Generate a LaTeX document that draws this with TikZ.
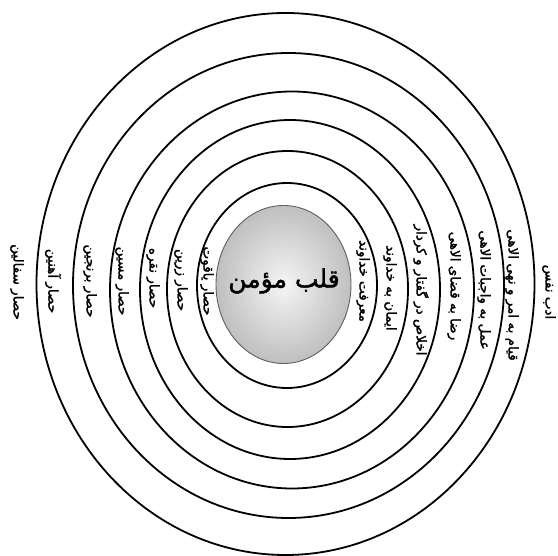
\documentclass[tikz,border=0pt]{standalone}
\usepackage{fontspec}
\newfontfamily\arabicfont[Script=Arabic,FakeBold=1.8]{DejaVu Sans}
\TeXXeTstate=1
\tikzset{
  ring/.style={draw=black,line width=1.8pt},
  lbl/.style={rotate=-90,inner sep=0pt,font=\arabicfont\fontsize{13.5}{15}\selectfont},
}
\begin{document}
\begin{tikzpicture}[x=1pt,y=-1pt]
\useasboundingbox (0,0) rectangle (558,556);
\fill[white] (0,0) rectangle (558,556);
% rings
\draw[ring] (285.5,284) ellipse [x radius=249,y radius=271];
\draw[ring] (288.5,285.5) ellipse [x radius=215.5,y radius=232.5];
\draw[ring] (292,290) ellipse [x radius=182,y radius=198.5];
\draw[ring] (290,289.5) ellipse [x radius=150,y radius=169.5];
\draw[ring] (287.5,289) ellipse [x radius=120.5,y radius=138];
\draw[ring] (287,285.5) ellipse [x radius=90,y radius=102.5];
% heart
\shade[inner color=gray!8,outer color=gray!50,draw=gray!75!black,line width=0.9pt]
  (283.5,284.5) ellipse [x radius=67.5,y radius=79];
\node[font=\arabicfont\fontsize{25}{29}\selectfont] (heart) at (284,281) {\beginR قلب مؤمن\endR};
% left labels
\node[lbl] (l1) at (17,282) {\beginR حصار سفالین\endR};
\node[lbl] (l2) at (53,281) {\beginR حصار آهنین\endR};
\node[lbl] (l3) at (90,281) {\beginR حصار برنجین\endR};
\node[lbl] (l4) at (122,281) {\beginR حصار مسین\endR};
\node[lbl] (l5) at (153,278) {\beginR حصار نقره\endR};
\node[lbl] (l6) at (181,280) {\beginR حصار زرین\endR};
\node[lbl] (l7) at (207,281) {\beginR حصار یاقوت\endR};
% right labels
\node[lbl] (r1) at (549,292) {\beginR ادب نفس\endR};
\node[lbl] (r2) at (512,295) {\beginR قیام به امر و نهی الاهی\endR};
\node[lbl] (r3) at (484,290) {\beginR عمل به واجبات الاهی\endR};
\node[lbl] (r4) at (454,286) {\beginR رضا به قضای الاهی\endR};
\node[lbl] (r5) at (421,290) {\beginR اخلاص در گفتار و کردار\endR};
\node[lbl] (r6) at (390,288) {\beginR ایمان به خداوند\endR};
\node[lbl] (r7) at (363,281) {\beginR معرفت خداوند\endR};
\end{tikzpicture}
\end{document}
